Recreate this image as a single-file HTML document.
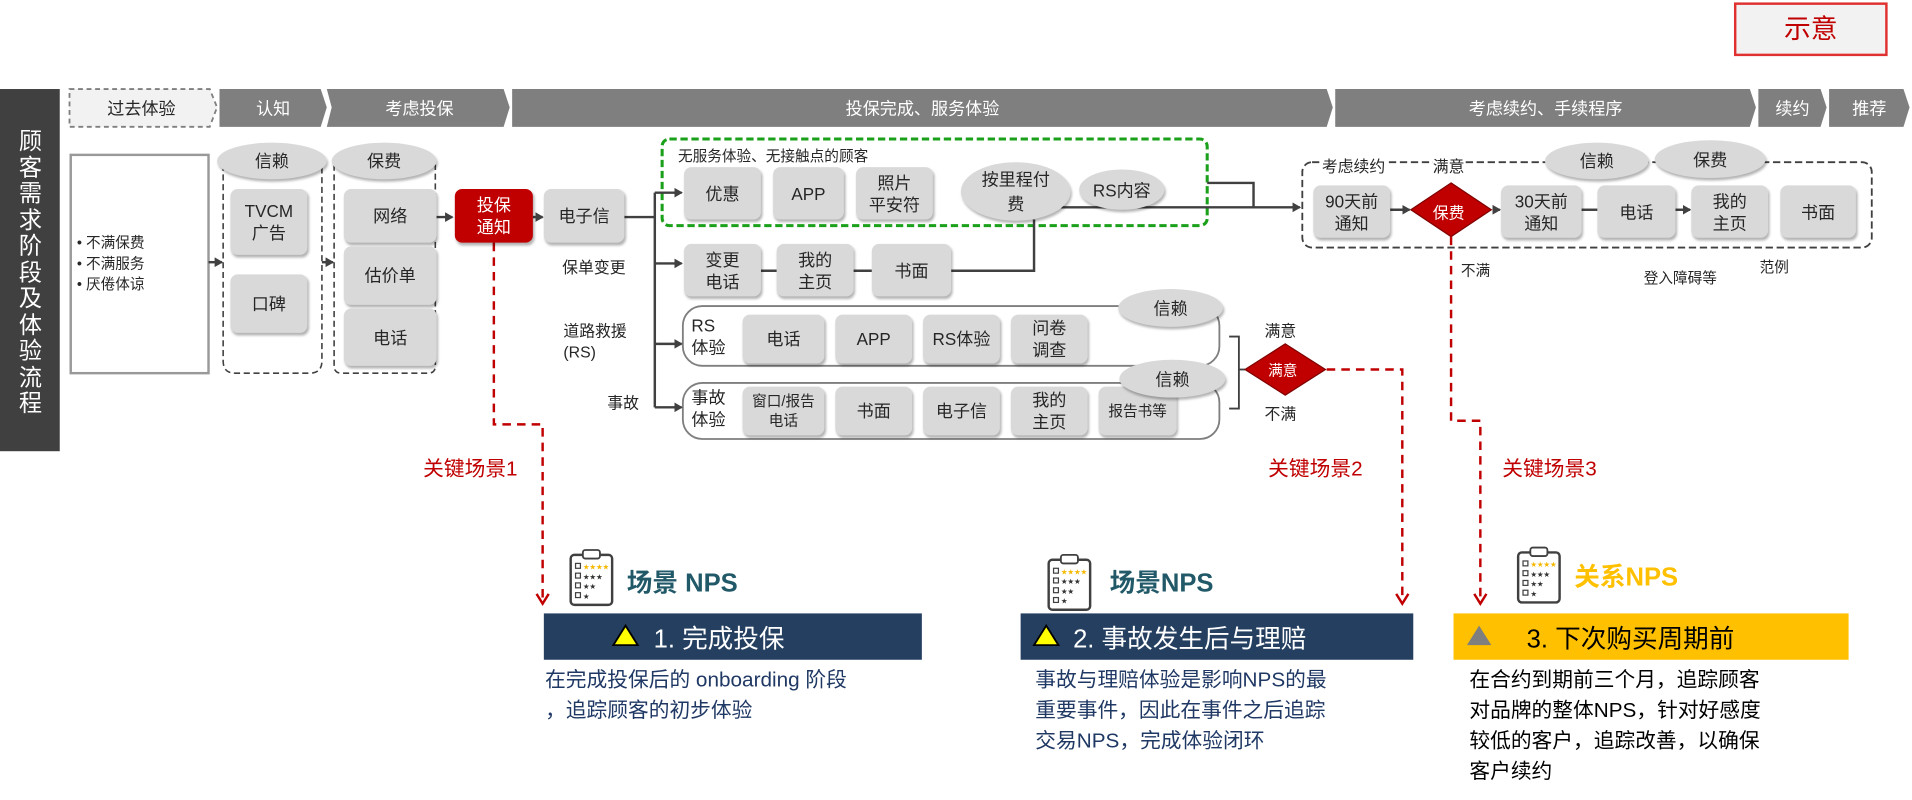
<!DOCTYPE html>
<html><head><meta charset="utf-8"><style>
html,body{margin:0;padding:0;background:#fff;width:1912px;height:800px;overflow:hidden}
#c{position:absolute;left:0;top:0;width:1568px;height:656px;transform:scale(1.21939,1.2195);transform-origin:0 0;font-family:"Liberation Sans","Noto Sans CJK SC",sans-serif;color:#262626}
.a{position:absolute}
.b{position:absolute;background:#d9d9d9;border-radius:6px;box-shadow:1px 2px 2px rgba(0,0,0,.3);display:flex;align-items:center;justify-content:center;text-align:center;font-size:14px;line-height:18px}
.e{position:absolute;background:#d9d9d9;border-radius:50%;box-shadow:1px 2px 2px rgba(0,0,0,.3);display:flex;align-items:center;justify-content:center;text-align:center;font-size:14px;line-height:20px}
.t{position:absolute;font-size:13px;white-space:nowrap}
.h{position:absolute;color:#fff;font-size:14px;text-align:center;top:79px}
.r{position:absolute;color:#c00000;font-size:17px;white-space:nowrap}
</style></head><body><div id="c">
<svg class="a" style="left:0;top:0" width="1568" height="656">
<defs>
<marker id="ar" markerWidth="8" markerHeight="8" refX="6" refY="4" orient="auto" markerUnits="userSpaceOnUse"><path d="M0,0L7,4L0,8z" fill="#404040"/></marker>
<marker id="rr" markerWidth="12" markerHeight="12" refX="9" refY="6" orient="auto" markerUnits="userSpaceOnUse"><path d="M1,1L9,6L1,11" fill="none" stroke="#c00000" stroke-width="2"/></marker>
</defs>
<polygon points="57,73 172,73 178,88 172,104 57,104" fill="#f2f2f2" stroke="#7f7f7f" stroke-width="1.5" stroke-dasharray="4,3"/>
<polygon points="180,73 263,73 268,88 263,104 180,104" fill="#7f7f7f"/>
<polygon points="268,73 413,73 418,88 413,104 268,104 272,88" fill="#7f7f7f"/>
<polygon points="420,73 1088,73 1093,88 1088,104 420,104" fill="#7f7f7f"/>
<polygon points="1095,73 1435,73 1440,88 1435,104 1095,104" fill="#7f7f7f"/>
<polygon points="1442,73 1493,73 1498,88 1493,104 1442,104" fill="#7f7f7f"/>
<polygon points="1500,73 1561,73 1566,88 1561,104 1500,104" fill="#7f7f7f"/>
<rect x="0" y="73" width="49" height="297" fill="#404040"/>
<rect x="58" y="127" width="113" height="179" fill="#fff" stroke="#999" stroke-width="2"/>
<path d="M183,135 V296 Q183,306 193,306 H254 Q264,306 264,296 V135" fill="none" stroke="#404040" stroke-width="1.3" stroke-dasharray="5,3"/>
<path d="M274,135 V300 Q274,306 280,306 H351 Q357,306 357,300 V135" fill="none" stroke="#404040" stroke-width="1.3" stroke-dasharray="5,3"/>
<rect x="543" y="114" width="447" height="71" rx="6" fill="none" stroke="#1aa01a" stroke-width="2.5" stroke-dasharray="6,3"/>
<rect x="1068" y="133" width="467" height="70" rx="8" fill="none" stroke="#404040" stroke-width="1.5" stroke-dasharray="6,3"/>
<rect x="560" y="251" width="440" height="49" rx="16" fill="#fff" stroke="#7f7f7f" stroke-width="1.5"/>
<rect x="560" y="314" width="440" height="46" rx="16" fill="#fff" stroke="#7f7f7f" stroke-width="1.5"/>
<g stroke="#404040" stroke-width="2" fill="none">
<line x1="171" y1="215" x2="182" y2="215" marker-end="url(#ar)"/>
<line x1="264" y1="215" x2="273" y2="215" marker-end="url(#ar)"/>
<line x1="357" y1="178" x2="371" y2="178" marker-end="url(#ar)"/>
<line x1="437" y1="178" x2="445" y2="178" marker-end="url(#ar)"/>
<polyline points="512,178 537,178"/>
<line x1="537" y1="158" x2="537" y2="334"/>
<line x1="537" y1="158" x2="559" y2="158" marker-end="url(#ar)"/>
<line x1="537" y1="216" x2="559" y2="216" marker-end="url(#ar)"/>
<line x1="537" y1="282" x2="559" y2="282" marker-end="url(#ar)"/>
<line x1="537" y1="334" x2="559" y2="334" marker-end="url(#ar)"/>
<line x1="624" y1="222" x2="637" y2="222"/>
<line x1="700" y1="222" x2="715" y2="222"/>
<polyline points="780,222 848,222 848,180"/>
<line x1="870" y1="170" x2="1066" y2="170" marker-end="url(#ar)"/>
<polyline points="990,150 1028,150 1028,170"/>
<line x1="1140" y1="172" x2="1156" y2="172" marker-end="url(#ar)"/>
<line x1="1224" y1="172" x2="1230" y2="172" marker-end="url(#ar)"/>
<line x1="1297" y1="172" x2="1310" y2="172"/>
<line x1="1374" y1="172" x2="1386" y2="172" marker-end="url(#ar)"/>
<polyline points="1008,276 1016,276 1016,335 1008,335" stroke-width="1.5"/>
<line x1="1016" y1="303" x2="1021" y2="303" stroke-width="1.5"/>
</g>
<polygon points="1054,282 1087,303 1054,324 1021,303" fill="#c00000" stroke="#7f0000"/>
<polygon points="1190,150 1223,172 1190,194 1157,172" fill="#c00000" stroke="#7f0000"/>
<g stroke="#c00000" stroke-width="2" fill="none" stroke-dasharray="7,5">
<polyline points="405,199 405,348 445,348 445,495" marker-end="url(#rr)"/>
<polyline points="1088,303 1150,303 1150,495" marker-end="url(#rr)"/>
<polyline points="1190,194 1190,345 1214,345 1214,495" marker-end="url(#rr)"/>
</g>
<g id="ic" fill="none" stroke="#404040">
<rect x="468" y="455" width="34" height="41" rx="3" stroke-width="2" fill="#fff"/>
<rect x="478" y="451" width="14" height="7" rx="2" stroke-width="1.5" fill="#fff"/>
<rect x="472" y="462" width="4" height="4" stroke-width="1"/><rect x="472" y="470" width="4" height="4" stroke-width="1"/><rect x="472" y="478" width="4" height="4" stroke-width="1"/><rect x="472" y="486" width="4" height="4" stroke-width="1"/>
</g>
<use href="#ic" x="392" y="4"/>
<use href="#ic" x="777" y="-2"/>
<g font-size="6" font-family="Liberation Sans">
<text x="478" y="467" fill="#f5b800">★★★★</text><text x="478" y="475" fill="#333">★★★</text><text x="478" y="483" fill="#333">★★</text><text x="478" y="491" fill="#333">★</text>
<text x="870" y="471" fill="#f5b800">★★★★</text><text x="870" y="479" fill="#333">★★★</text><text x="870" y="487" fill="#333">★★</text><text x="870" y="495" fill="#333">★</text>
<text x="1255" y="465" fill="#f5b800">★★★★</text><text x="1255" y="473" fill="#333">★★★</text><text x="1255" y="481" fill="#333">★★</text><text x="1255" y="489" fill="#333">★</text>
</g>
<rect x="446" y="503" width="310" height="38" fill="#243f60"/>
<rect x="837" y="503" width="322" height="38" fill="#243f60"/>
<rect x="1192" y="503" width="324" height="38" fill="#ffc000"/>
<polygon points="513,513 523,529 503,529" fill="#ffff00" stroke="#000" stroke-width="1.5"/>
<polygon points="858,513 868,529 848,529" fill="#ffff00" stroke="#000" stroke-width="1.5"/>
<polygon points="1213,513 1223,529 1203,529" fill="#7f7f7f"/>
</svg>

<div class="a" style="left:1422px;top:2px;width:122px;height:40px;border:2px solid #e03030;background:#f2f2f2;color:#c00000;font-size:22px;text-align:center;line-height:40px">示意</div>
<div class="a" style="left:14px;top:106px;width:22px;color:#fff;font-size:19px;line-height:21.5px;text-align:center">顾客需求阶段及体验流程</div>

<div class="h" style="left:57px;width:118px;color:#262626">过去体验</div>
<div class="h" style="left:180px;width:88px">认知</div>
<div class="h" style="left:270px;width:148px">考虑投保</div>
<div class="h" style="left:420px;width:673px">投保完成、服务体验</div>
<div class="h" style="left:1095px;width:345px">考虑续约、手续程序</div>
<div class="h" style="left:1442px;width:56px">续约</div>
<div class="h" style="left:1500px;width:66px">推荐</div>

<div class="t" style="left:63px;top:191px;font-size:12px;line-height:17px">• 不满保费<br>• 不满服务<br>• 厌倦体谅</div>

<div class="e" style="left:178px;top:117px;width:90px;height:30px">信赖</div>
<div class="e" style="left:272px;top:117px;width:86px;height:30px">保费</div>
<div class="b" style="left:189px;top:155px;width:63px;height:54px">TVCM<br>广告</div>
<div class="b" style="left:189px;top:225px;width:63px;height:48px">口碑</div>
<div class="b" style="left:282px;top:155px;width:76px;height:44px">网络</div>
<div class="b" style="left:282px;top:202px;width:76px;height:48px">估价单</div>
<div class="b" style="left:282px;top:253px;width:76px;height:47px">电话</div>
<div class="b" style="left:373px;top:155px;width:64px;height:44px;background:#c00000;color:#fff">投保<br>通知</div>
<div class="b" style="left:446px;top:155px;width:66px;height:44px">电子信</div>

<div class="t" style="left:556px;top:119px;font-size:12px">无服务体验、无接触点的顾客</div>
<div class="b" style="left:561px;top:137px;width:63px;height:43px">优惠</div>
<div class="b" style="left:634px;top:137px;width:58px;height:43px">APP</div>
<div class="b" style="left:702px;top:137px;width:63px;height:43px">照片<br>平安符</div>
<div class="e" style="left:788px;top:133px;width:90px;height:48px">按里程付<br>费</div>
<div class="e" style="left:885px;top:139px;width:70px;height:33px">RS内容</div>

<div class="t" style="left:461px;top:209px">保单变更</div>
<div class="t" style="left:462px;top:263px;line-height:17px">道路救援<br>(RS)</div>
<div class="t" style="left:498px;top:320px">事故</div>
<div class="b" style="left:561px;top:200px;width:63px;height:43px">变更<br>电话</div>
<div class="b" style="left:637px;top:200px;width:63px;height:43px">我的<br>主页</div>
<div class="b" style="left:715px;top:200px;width:65px;height:43px">书面</div>

<div class="t" style="left:567px;top:258px;font-size:14px;line-height:18px;white-space:normal">RS<br>体验</div>
<div class="b" style="left:609px;top:258px;width:67px;height:40px">电话</div>
<div class="b" style="left:685px;top:258px;width:63px;height:40px">APP</div>
<div class="b" style="left:757px;top:258px;width:63px;height:40px">RS体验</div>
<div class="b" style="left:829px;top:258px;width:63px;height:40px">问卷<br>调查</div>
<div class="e" style="left:917px;top:237px;width:86px;height:31px">信赖</div>

<div class="t" style="left:567px;top:317px;font-size:14px;line-height:18px">事故<br>体验</div>
<div class="b" style="left:609px;top:317px;width:67px;height:40px;font-size:12px;line-height:16px">窗口/报告<br>电话</div>
<div class="b" style="left:685px;top:317px;width:63px;height:40px">书面</div>
<div class="b" style="left:757px;top:317px;width:63px;height:40px">电子信</div>
<div class="b" style="left:829px;top:317px;width:63px;height:40px">我的<br>主页</div>
<div class="b" style="left:901px;top:317px;width:64px;height:40px;font-size:12px">报告书等</div>
<div class="e" style="left:918px;top:295px;width:87px;height:31px">信赖</div>

<div class="t" style="left:1037px;top:261px">满意</div>
<div class="t" style="left:1037px;top:329px">不满</div>
<div class="t" style="left:1040px;top:295px;color:#fff;font-size:12px">满意</div>

<div class="t" style="left:1082px;top:126px;background:#fff;padding:0 2px">考虑续约</div>
<div class="t" style="left:1175px;top:126px;background:#fff">满意</div>
<div class="e" style="left:1267px;top:117px;width:85px;height:30px">信赖</div>
<div class="e" style="left:1357px;top:115px;width:91px;height:31px">保费</div>
<div class="b" style="left:1077px;top:152px;width:63px;height:43px">90天前<br>通知</div>
<div class="t" style="left:1175px;top:164px;color:#fff;font-size:13px">保费</div>
<div class="b" style="left:1231px;top:152px;width:66px;height:43px">30天前<br>通知</div>
<div class="b" style="left:1310px;top:152px;width:64px;height:43px">电话</div>
<div class="b" style="left:1387px;top:152px;width:63px;height:43px">我的<br>主页</div>
<div class="b" style="left:1460px;top:152px;width:62px;height:43px">书面</div>
<div class="t" style="left:1198px;top:213px;font-size:12px">不满</div>
<div class="t" style="left:1348px;top:219px;font-size:12px">登入障碍等</div>
<div class="t" style="left:1443px;top:210px;font-size:12px">范例</div>

<div class="r" style="left:347px;top:370px">关键场景1</div>
<div class="r" style="left:1040px;top:370px">关键场景2</div>
<div class="r" style="left:1232px;top:370px">关键场景3</div>

<div class="a" style="left:514px;top:462px;font-size:21px;font-weight:bold;color:#215968">场景 NPS</div>
<div class="a" style="left:910px;top:462px;font-size:21px;font-weight:bold;color:#215968">场景NPS</div>
<div class="a" style="left:1291px;top:457px;font-size:21px;font-weight:bold;color:#ffc000">关系NPS</div>

<div class="a" style="left:536px;top:508px;font-size:21px;color:#fff;white-space:nowrap">1. 完成投保</div>
<div class="a" style="left:880px;top:508px;font-size:21px;color:#fff;white-space:nowrap">2. 事故发生后与理赔</div>
<div class="a" style="left:1252px;top:508px;font-size:21px;color:#000;white-space:nowrap">3. 下次购买周期前</div>

<div class="a" style="left:447px;top:545px;font-size:17px;line-height:25px;color:#1f3864;width:320px">在完成投保后的 onboarding 阶段<br>，追踪顾客的初步体验</div>
<div class="a" style="left:849px;top:545px;font-size:17px;line-height:25px;color:#1f3864;width:320px">事故与理赔体验是影响NPS的最<br>重要事件，因此在事件之后追踪<br>交易NPS，完成体验闭环</div>
<div class="a" style="left:1205px;top:545px;font-size:17px;line-height:25px;color:#000;width:320px">在合约到期前三个月，追踪顾客<br>对品牌的整体NPS，针对好感度<br>较低的客户，追踪改善，以确保<br>客户续约</div>
</div></body></html>
